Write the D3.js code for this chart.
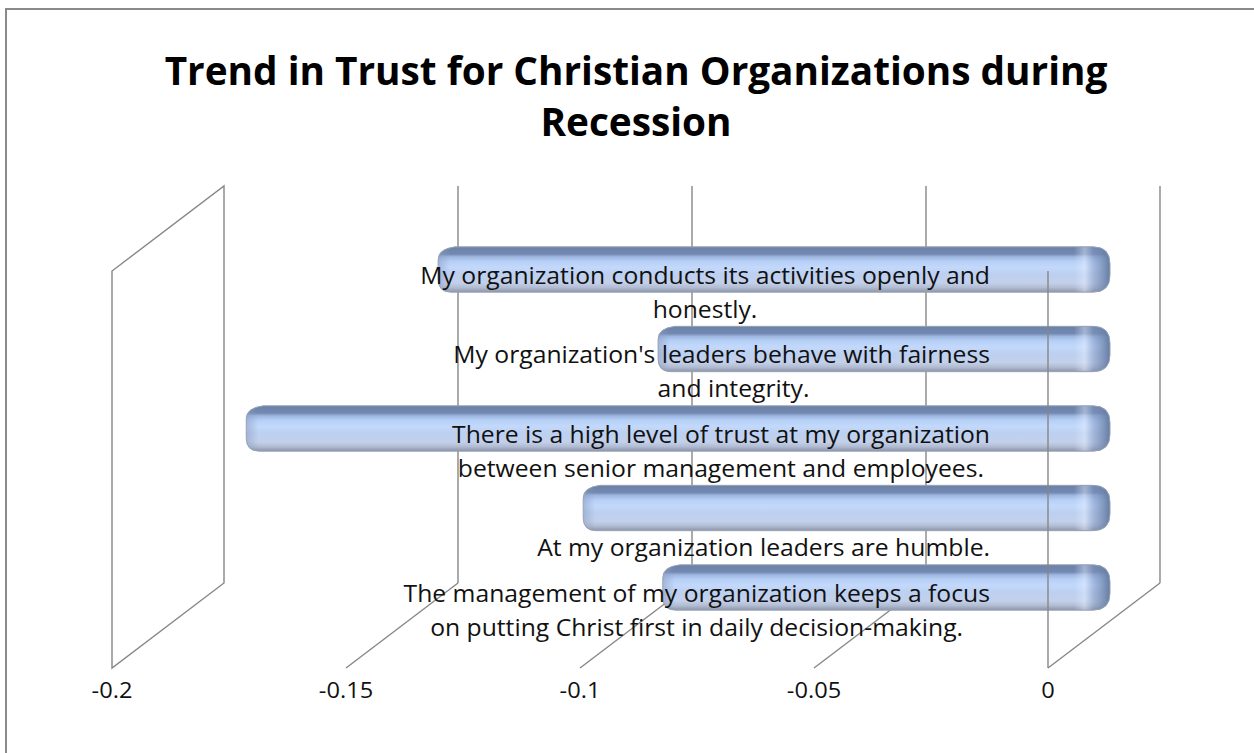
<!DOCTYPE html>
<html><head><meta charset="utf-8">
<script src="https://cdn.jsdelivr.net/npm/d3@7"></script>
<style>body{margin:0;background:#fff}svg{display:block}</style>
</head><body><svg id="c" width="1254" height="753"></svg>
<script>
// ---------- data ----------
const titleLines = ["Trend in Trust for Christian Organizations during", "Recession"];
const categories = [
  "My organization conducts its activities openly and honestly.",
  "My organization's leaders behave with fairness and integrity.",
  "There is a high level of trust at my organization between senior management and employees.",
  "At my organization leaders are humble.",
  "The management of my organization keeps a focus on putting Christ first in daily decision-making."
];
const labelLines = [
  ["My organization conducts its activities openly and", "honestly."],
  ["My organization's leaders behave with fairness", "and integrity."],
  ["There is a high level of trust at my organization", "between senior management and employees."],
  ["", "At my organization leaders are humble."],
  ["The management of my organization keeps a focus", "on putting Christ first in daily decision-making."]
];
const values = [-0.141, -0.094, -0.182, -0.110, -0.093];
const tickValues = [-0.2, -0.15, -0.1, -0.05, 0];
const tickLabels = ["-0.2", "-0.15", "-0.1", "-0.05", "0"];

// ---------- layout ----------
const svg = d3.select("#c");
const FONT = "'Open Sans', 'Noto Sans', sans-serif";
const x = d3.scaleLinear().domain([-0.2, 0]).range([224, 1160]);   // back wall
const depth = { dx: -112, dy: 85 };
const wallTop = 186, wallBottom = 583;
const y = d3.scaleBand().domain(d3.range(categories.length))
  .range([229.75, 627.25]).paddingInner(0.43).paddingOuter(0.215);
const xm = v => x(v) + depth.dx / 2;   // mid-depth (bars)
const xf = v => x(v) + depth.dx;       // front
const cap = 6;
const gridColor = "#878787";

// border
svg.append("rect").attr("x", 6).attr("y", 9).attr("width", 1400).attr("height", 1000)
  .attr("fill", "none").attr("stroke", "#8a8a8a").attr("stroke-width", 2);

const defs = svg.append("defs");
const g1 = defs.append("linearGradient").attr("id", "barGrad").attr("x1", 0).attr("y1", 0).attr("x2", 0).attr("y2", 1);
[[0, "#6a81a8"], [0.16, "#7389b1"], [0.22, "#9db6e0"], [0.32, "#b6cff6"], [0.45, "#c3d9fb"],
 [0.6, "#bcd0f1"], [0.8, "#c3d0ea"], [0.9, "#b1bcd2"], [1, "#8a95a9"]]
  .forEach(([o, c]) => g1.append("stop").attr("offset", o).attr("stop-color", c));
const g2 = defs.append("linearGradient").attr("id", "capGrad").attr("x1", 0).attr("y1", 0).attr("x2", 1).attr("y2", 0);
[[0, "#e4eeff", 0], [0.3, "#e4eeff", 0.45], [0.55, "#7c93bd", 0.45], [1, "#61779f", 0.95]]
  .forEach(([o, c, a]) => g2.append("stop").attr("offset", o).attr("stop-color", c).attr("stop-opacity", a));
const g3 = defs.append("linearGradient").attr("id", "leftGrad").attr("x1", 0).attr("y1", 0).attr("x2", 1).attr("y2", 0);
[[0, "#8a9cc0", 0.55], [1, "#8a9cc0", 0]]
  .forEach(([o, c, a]) => g3.append("stop").attr("offset", o).attr("stop-color", c).attr("stop-opacity", a));

// left wall (at -0.2)
const x0 = tickValues[0];
svg.append("path")
  .attr("d", `M${x(x0)},${wallTop} L${x(x0)},${wallBottom} L${xf(x0)},${wallBottom + depth.dy} L${xf(x0)},${wallTop + depth.dy} Z`)
  .attr("fill", "none").attr("stroke", gridColor).attr("stroke-width", 1.4);

// back-wall gridlines + floor lines
tickValues.slice(1).forEach(v => {
  svg.append("line").attr("x1", x(v)).attr("x2", x(v)).attr("y1", wallTop).attr("y2", wallBottom)
    .attr("stroke", gridColor).attr("stroke-width", 1.4);
  svg.append("line").attr("x1", x(v)).attr("x2", xf(v)).attr("y1", wallBottom).attr("y2", wallBottom + depth.dy)
    .attr("stroke", gridColor).attr("stroke-width", 1.4);
});

// bars
const bars = svg.append("g");
values.forEach((v, i) => {
  const x1 = xm(v) - cap, x2 = xm(0) + cap, yt = y(i), h = y.bandwidth(), r = 13, rr = 17;
  const shape = `M${x1 + r * 1.3},${yt} L${x2 - rr},${yt} Q${x2},${yt} ${x2},${yt + rr} L${x2},${yt + h - rr} Q${x2},${yt + h} ${x2 - rr},${yt + h} L${x1 + r},${yt + h} Q${x1},${yt + h} ${x1},${yt + h - r} L${x1},${yt + r} Q${x1},${yt + 2} ${x1 + r * 1.3},${yt} Z`;
  defs.append("clipPath").attr("id", "clip" + i).append("path").attr("d", shape);
  const g = bars.append("g");
  g.append("path").attr("d", shape).attr("fill", "url(#barGrad)");
  const gc = g.append("g").attr("clip-path", `url(#clip${i})`);
  gc.append("rect").attr("x", x2 - 36).attr("y", yt).attr("width", 36).attr("height", h).attr("fill", "url(#capGrad)");
  gc.append("rect").attr("x", x1).attr("y", yt).attr("width", 12).attr("height", h).attr("fill", "url(#leftGrad)");
  g.append("path").attr("d", shape).attr("fill", "none").attr("stroke", "#98a2b5").attr("stroke-width", 1);
});

// front line at 0
svg.append("line").attr("x1", xf(0)).attr("x2", xf(0)).attr("y1", wallTop + depth.dy).attr("y2", wallBottom + depth.dy)
  .attr("stroke", gridColor).attr("stroke-width", 1.4);

// ---------- text ----------
function condensed(sel, k) {
  sel.each(function () {
    const t = d3.select(this);
    const ax = +t.attr("data-x"), ay = +t.attr("data-y");
    t.attr("transform", `translate(${ax},${ay}) scale(${k},1)`);
  });
}

// title
const titleG = svg.append("g");
const tl = titleG.selectAll("text").data(titleLines).join("text")
  .attr("data-x", 636).attr("data-y", (d, i) => 85 + i * 51)
  .attr("text-anchor", "middle").attr("font-family", FONT).attr("font-weight", "bold")
  .attr("font-size", 40).attr("fill", "#000").text(d => d);
const tw = tl.nodes()[0].getComputedTextLength();
condensed(tl, 943 / tw);

// category labels
const labelRight = 990;
const shift2 = [0, 12, 0, 0, 0];
const lg = svg.append("g");
const probe = lg.append("text").attr("font-family", FONT).attr("font-size", 23).text(labelLines[0][0]);
const kL = 570 / probe.node().getComputedTextLength();
probe.remove();
labelLines.forEach((lines, i) => {
  const cy = y(i) + y.bandwidth() / 2;
  const first = lg.append("text").attr("font-family", FONT).attr("font-size", 23).attr("fill", "#111")
    .attr("text-anchor", "end").attr("data-x", labelRight).attr("data-y", cy + 14).text(lines[0]);
  const w1 = lines[0] ? first.node().getComputedTextLength() * kL : 0;
  condensed(first, kL);
  const cx2 = lines[0] ? labelRight - w1 / 2 + shift2[i] : null;
  const second = lg.append("text").attr("font-family", FONT).attr("font-size", 23).attr("fill", "#111")
    .attr("text-anchor", lines[0] ? "middle" : "end")
    .attr("data-x", lines[0] ? cx2 : labelRight).attr("data-y", cy + 48).text(lines[1]);
  condensed(second, kL);
});

// tick labels (front)
const tg = svg.append("g");
const tt = tg.selectAll("text").data(tickValues).join("text")
  .attr("data-x", d => xf(d)).attr("data-y", 698)
  .attr("text-anchor", "middle").attr("font-family", FONT).attr("font-size", 22).attr("fill", "#111")
  .text((d, i) => tickLabels[i]);
condensed(tt, kL);
</script></body></html>
